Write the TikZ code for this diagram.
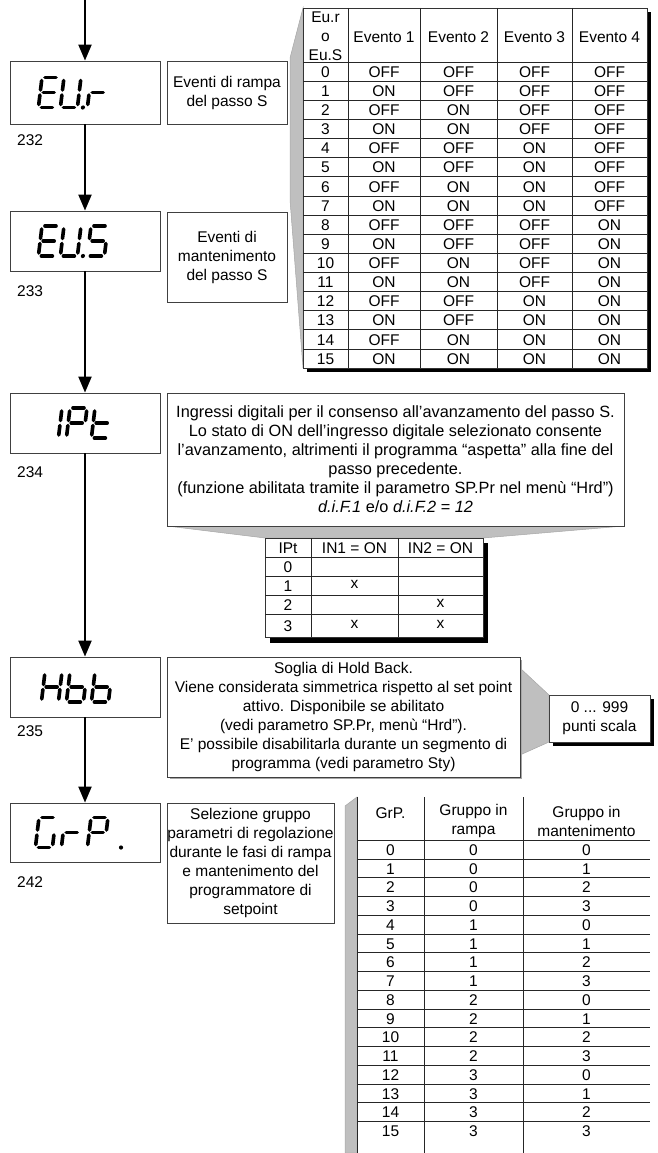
\documentclass[tikz,border=0pt]{standalone}
\usepackage{fontspec}
\setmainfont{Liberation Sans}
\usetikzlibrary{arrows.meta}

\newcommand{\txt}{\fontsize{15.5}{19}\selectfont}
\newcommand{\bigtxt}{\fontsize{16.3}{19}\selectfont}

% seven-segment display pieces (cell 17 x 30, y grows downwards)
\def\sgA{\draw[segline] (3,0) -- (14,0);}
\def\sgB{\draw[segline] (17,3) -- (17,12.5);}
\def\sgC{\draw[segline] (17,17.5) -- (17,27);}
\def\sgD{\draw[segline] (3,30) -- (14,30);}
\def\sgE{\draw[segline] (0,17.5) -- (0,27);}
\def\sgF{\draw[segline] (0,3) -- (0,12.5);}
\def\sgG{\draw[segline] (3,15) -- (14,15);}
\def\sgP{\fill (22.5,30) circle (2.1pt);}
\newcommand{\glyph}[3]{%
  \begin{scope}[shift={(#1,#2)},xslant=0.12]
    \foreach \s in {#3}{\csname sg\s\endcsname}
  \end{scope}}

\tikzset{
  disp/.style={draw=black!75, line width=0.8pt, minimum width=150pt, inner sep=0pt, fill=white},
  lbl/.style={draw=black!75, line width=0.8pt, align=center, inner sep=0pt, fill=white, font=\txt},
  flow/.style={line width=2pt, -{Triangle[width=13pt,length=16pt]}},
  cell/.style={inner sep=0pt, font=\txt, align=center},
  wedge/.style={fill=black!25, draw=black!35, line width=0.5pt},
  rule/.style={line width=0.6pt, black!85},
  frame/.style={draw=black!80, line width=0.7pt, fill=white, inner sep=0pt},
  segline/.style={line width=3.6pt, line cap=round},
  num/.style={anchor=west, inner sep=0pt, font=\txt}
}

\begin{document}
\begin{tikzpicture}[x=1pt,y=-1pt]
\useasboundingbox (0,0) rectangle (657,1153);

% grey projections linking the descriptions to their tables
\draw[wedge] (303,8) -- (290,58) -- (290,200) -- (303,368) -- cycle;
\draw[wedge] (167,526) -- (624,526) -- (483,538) -- (265,538) -- cycle;
\draw[wedge] (520,668) -- (549,695) -- (549,742) -- (520,755) -- cycle;
\draw[wedge] (357,797) -- (345,806) -- (345,1153) -- (357,1153) -- cycle;

% drop shadows
\fill (647,12) rectangle (651,372);
\fill (307,368) rectangle (651,372);
\fill (483,543) rectangle (488,643);
\fill (270,637) rectangle (488,643);
\fill (650,699) rectangle (654,746);
\fill (553,742) rectangle (654,746);
\fill[black!35] (170,660) rectangle (522,779);

% display windows
\node[disp, minimum height=63pt] (eur) at (85,92.5) {};
\node[disp, minimum height=60pt] (eus) at (85,241) {};
\node[disp, minimum height=60pt] (ipt) at (85,423) {};
\node[disp, minimum height=60pt] (hbb) at (85,687) {};
\node[disp, minimum height=59pt] (grp) at (85,832.5) {};

% parameter numbers
\node[num] (n232) at (17,140) {232};
\node[num] (n233) at (17,291) {233};
\node[num] (n234) at (17,472) {234};
\node[num] (n235) at (17,731) {235};
\node[num] (n242) at (17,882) {242};

% descriptions
\node[lbl, minimum width=120pt, minimum height=63pt] (leur) at (227,92.5) {Eventi di rampa\\del passo S};
\node[lbl, minimum width=120pt, minimum height=90pt] (leus) at (227,257) {Eventi di\\mantenimento\\del passo S};
\node[lbl, minimum width=457pt, minimum height=133pt, font=\bigtxt] (lipt) at (395.5,459.5)
  {Ingressi digitali per il consenso all’avanzamento del passo S.\\
   Lo stato di ON dell’ingresso digitale selezionato consente\\
   l’avanzamento, altrimenti il programma “aspetta” alla fine del\\
   passo precedente.\\
   (funzione abilitata tramite il parametro SP.Pr nel menù “Hrd”)\\
   \textit{d.i.F.1} e/o \textit{d.i.F.2 = 12}};
\node[lbl, minimum width=353pt, minimum height=120pt] (lhbb) at (343.5,717)
  {Soglia di Hold Back.\\
   Viene considerata simmetrica rispetto al set point\\
   attivo. Disponibile se abilitato\\
   (vedi parametro SP.Pr, menù “Hrd”).\\
   E’ possibile disabilitarla durante un segmento di\\
   programma (vedi parametro Sty)};
\node[lbl, minimum width=101pt, minimum height=47pt] (lrng) at (599.5,718.5) {0 ... 999\\punti scala};
\node[lbl, minimum width=167pt, minimum height=120pt] (lgrp) at (250.5,863)
  {Selezione gruppo\\parametri di regolazione\\durante le fasi di rampa\\e mantenimento del\\programmatore di\\setpoint};

% event table
\node[frame, minimum width=344pt, minimum height=360pt] (tev) at (475,188) {};
\foreach \x in {348,420,497,572} \draw[rule] (\x,8) -- (\x,368);
\foreach \j in {0,...,15} \draw[rule] (303,{62+19.125*\j}) -- (647,{62+19.125*\j});
\node[cell] (tev-h0) at (325.5,36) {Eu.r\\o\\Eu.S};
\foreach \k/\cx in {1/384,2/458.5,3/534.5,4/609.5}
  \node[cell] (tev-h\k) at (\cx,37) {Evento \k};
\foreach \i in {0,...,15} {
  \pgfmathsetmacro\yy{72+19.125*\i}
  \node[cell] (tev-\i-0) at (325.5,\yy) {\i};
  \foreach \k/\cx in {1/384,2/458.5,3/534.5,4/609.5} {
    \pgfmathtruncatemacro\bit{mod(floor(\i/pow(2,\k-1)),2)}
    \node[cell] (tev-\i-\k) at (\cx,\yy) {\ifnum\bit=1 ON\else OFF\fi};
  }
}

% digital input table
\node[frame, minimum width=218pt, minimum height=99pt] (tin) at (374,587.5) {};
\foreach \x in {311,398} \draw[rule] (\x,538) -- (\x,637);
\foreach \y in {557,576,595,614} \draw[rule] (265,\y) -- (483,\y);
\node[cell] (tin-h0) at (288,548) {IPt};
\node[cell] (tin-h1) at (354.5,548) {IN1 = ON};
\node[cell] (tin-h2) at (440.5,548) {IN2 = ON};
\node[cell] (tin-0) at (288,567) {0};
\node[cell] (tin-1) at (288,586) {1};
\node[cell] (tin-2) at (288,605) {2};
\node[cell] (tin-3) at (288,626) {3};
\node[cell] (tin-1a) at (354.5,584) {x};
\node[cell] (tin-2b) at (440.5,603) {x};
\node[cell] (tin-3a) at (354.5,624) {x};
\node[cell] (tin-3b) at (440.5,624) {x};

% control group table
\foreach \x in {357,424,523} \draw[rule] (\x,797) -- (\x,1153);
\draw[rule] (357,840) -- (650,840);
\foreach \j in {0,...,14} \draw[rule] (357,{859+18.75*\j}) -- (650,{859+18.75*\j});
\node[cell] (tg-h0) at (390.5,813) {GrP.};
\node[cell] (tg-h1) at (473.5,821) {Gruppo in\\rampa};
\node[cell] (tg-h2) at (586.5,821) {Gruppo in\\mantenimento};
\foreach \i in {0,...,15} {
  \pgfmathsetmacro\yy{850+18.75*\i}
  \pgfmathtruncatemacro\ra{floor(\i/4)}
  \pgfmathtruncatemacro\ma{mod(\i,4)}
  \node[cell] (tg-\i-0) at (390.5,\yy) {\i};
  \node[cell] (tg-\i-1) at (473.5,\yy) {\ra};
  \node[cell] (tg-\i-2) at (586.5,\yy) {\ma};
}

% seven-segment readouts
\glyph{42}{77.5}{A,D,E,F,G}
\glyph{64}{77.5}{B,C,D,E,F,P}
\glyph{91}{77.5}{E,G}
\glyph{42}{226}{A,D,E,F,G}
\glyph{64}{226}{B,C,D,E,F,P}
\glyph{91}{226}{A,C,D,F,G}
\glyph{45}{408}{B,C}
\glyph{70}{408}{A,B,E,F,G}
\glyph{95}{408}{D,E,F,G}
\glyph{45}{672}{B,C,E,F,G}
\glyph{70}{672}{C,D,E,F,G}
\glyph{95}{672}{C,D,E,F,G}
\glyph{39}{817.5}{A,C,D,E,F}
\glyph{65}{817.5}{E,G}
\glyph{91}{817.5}{A,B,E,F,G}
\fill (121,847.5) circle (2.1pt);

% flow
\coordinate (start) at (85,0);
\draw[flow] (start) -- (eur);
\draw[flow] (eur) -- (eus);
\draw[flow] (eus) -- (ipt);
\draw[flow] (ipt) -- (hbb);
\draw[flow] (hbb) -- (grp);
\end{tikzpicture}
\end{document}
